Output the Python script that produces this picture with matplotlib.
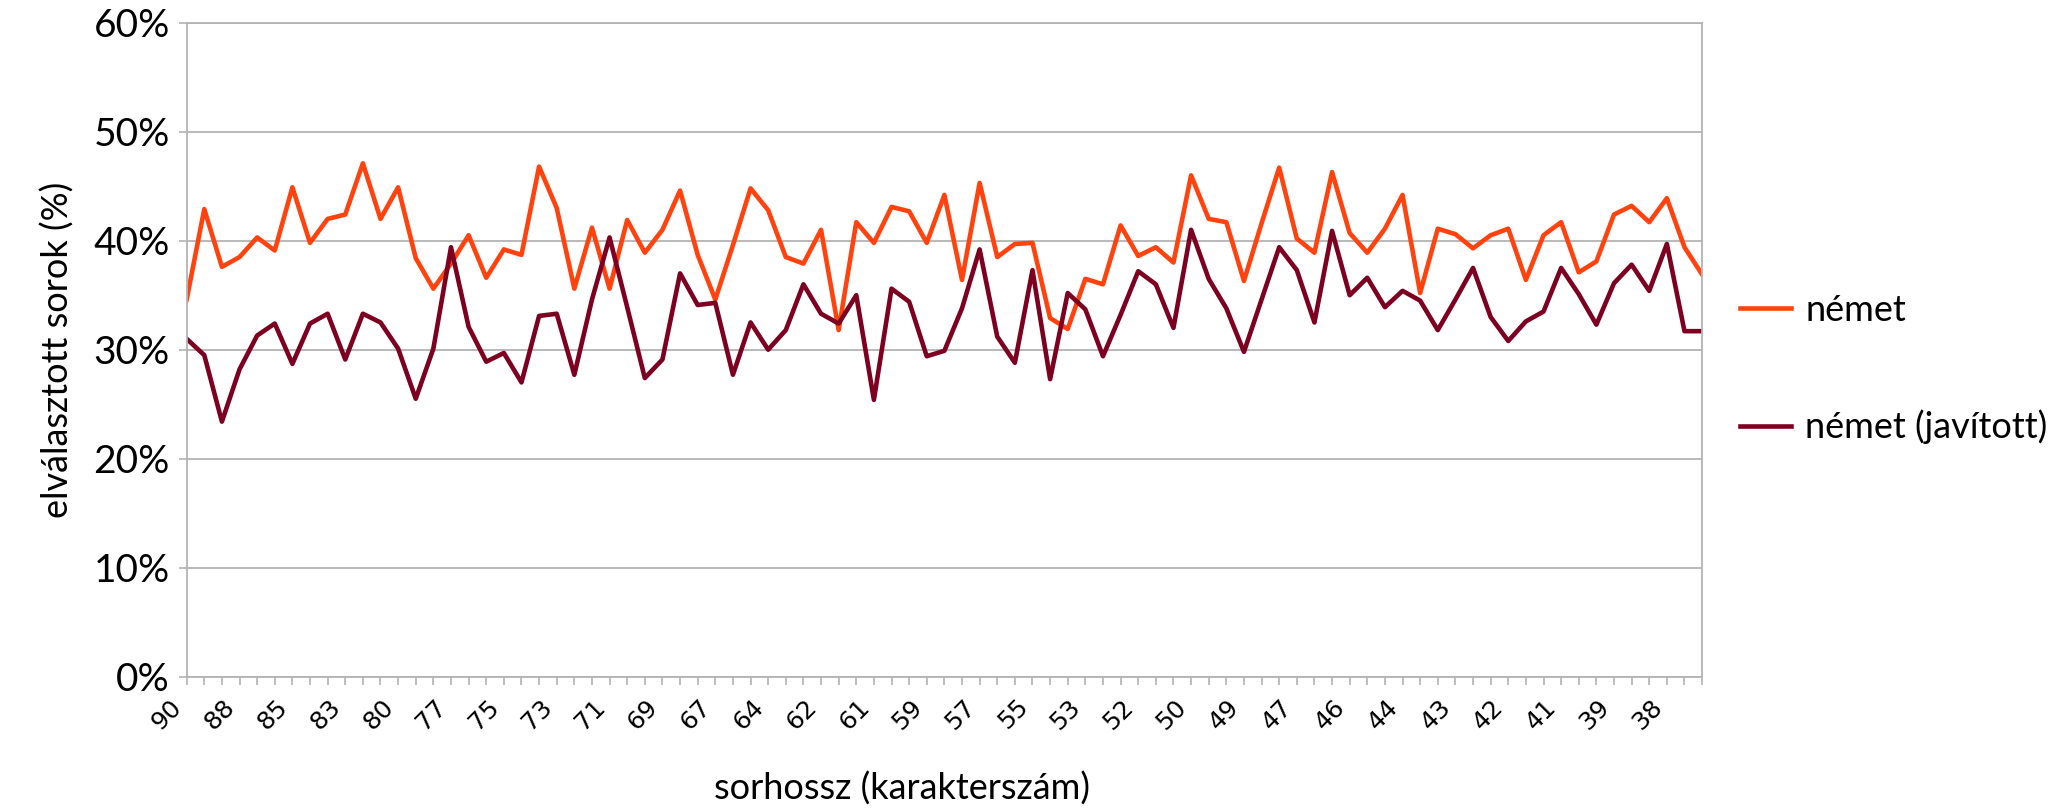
import numpy as np
import matplotlib
matplotlib.use("Agg")
import matplotlib.pyplot as plt

# x tick labels (only every third category is labelled in the original)
tick_labels = [90, 88, 85, 83, 80, 77, 75, 73, 71, 69, 67, 64, 62, 61, 59,
               57, 55, 53, 52, 50, 49, 47, 46, 44, 43, 42, 41, 39, 38]
label_step = 3

nemet = [34.6, 42.9, 37.6, 38.5, 40.3, 39.1, 44.9, 39.8, 42.0, 42.4,
         47.1, 42.0, 44.9, 38.4, 35.6, 37.9, 40.5, 36.6, 39.2, 38.7,
         46.8, 43.0, 35.6, 41.2, 35.6, 41.9, 38.9, 41.0, 44.6, 38.7,
         34.6, 39.6, 44.8, 42.8, 38.5, 37.9, 41.0, 31.8, 41.7, 39.8,
         43.1, 42.7, 39.8, 44.2, 36.4, 45.3, 38.5, 39.7, 39.8, 32.9,
         31.9, 36.5, 36.0, 41.4, 38.6, 39.4, 38.0, 46.0, 42.0, 41.7,
         36.3, 41.6, 46.7, 40.2, 38.9, 46.3, 40.7, 38.9, 41.1, 44.2,
         35.2, 41.1, 40.6, 39.3, 40.5, 41.1, 36.4, 40.5, 41.7, 37.1,
         38.1, 42.4, 43.2, 41.7, 43.9, 39.4, 36.9]

nemet_javitott = [31.0, 29.5, 23.4, 28.2, 31.3, 32.4, 28.7, 32.4, 33.3, 29.1,
                  33.3, 32.5, 30.1, 25.5, 30.1, 39.4, 32.1, 28.9, 29.7, 27.0,
                  33.1, 33.3, 27.7, 34.6, 40.3, 33.9, 27.4, 29.1, 37.0, 34.1,
                  34.3, 27.7, 32.5, 30.0, 31.8, 36.0, 33.3, 32.4, 35.0, 25.4,
                  35.6, 34.4, 29.4, 29.9, 33.8, 39.2, 31.2, 28.8, 37.3, 27.3,
                  35.2, 33.7, 29.4, 33.2, 37.2, 36.0, 32.0, 41.0, 36.5, 33.8,
                  29.8, 34.6, 39.4, 37.3, 32.5, 40.9, 35.0, 36.6, 33.9, 35.4,
                  34.5, 31.8, 34.6, 37.5, 33.0, 30.8, 32.6, 33.5, 37.5, 35.1,
                  32.3, 36.1, 37.8, 35.4, 39.7, 31.7, 31.7]

font = "Lato"
grid_col = "#b3b3b3"

fig = plt.figure(figsize=(20.49, 8.08), dpi=100)
ax = fig.add_axes([0.0911, 0.1625, 0.8307 - 0.0911, 0.9719 - 0.1625])

x = np.arange(len(nemet))
ax.plot(x, nemet, color="#ff420e", lw=3.3, label="német")
ax.plot(x, nemet_javitott, color="#7e0021", lw=3.3, label="német (javított)")

ax.set_xlim(0, len(nemet) - 1)
ax.set_ylim(0, 60)

ax.set_yticks(np.arange(0, 61, 10))
ax.set_yticklabels([f"{v}%" for v in range(0, 61, 10)], fontsize=28, family=font)
ax.yaxis.grid(True, color=grid_col, lw=1.3)
ax.set_axisbelow(True)

# labelled ticks as major, every category as minor
ax.set_xticks(x[::label_step][:len(tick_labels)])
ax.set_xticklabels([str(v) for v in tick_labels], rotation=45,
                   ha="right", va="top", fontsize=18)
ax.set_xticks(x, minor=True)
ax.tick_params(axis="x", which="both", length=6, width=1.2, color=grid_col)
ax.tick_params(axis="x", which="major", pad=7)
ax.tick_params(axis="y", length=6, width=1.2, color=grid_col, pad=6)

for s in ax.spines.values():
    s.set_color(grid_col)
    s.set_linewidth(1.3)

ax.set_ylabel("elválasztott sorok (%)", fontsize=26, family=font, labelpad=14)
fig.text(902 / 2049, 1 - 789 / 808, "sorhossz (karakterszám)", fontsize=26,
         family=font, ha="center", va="center")

fig.legend(loc="center left", bbox_to_anchor=(1740 / 2049, 1 - 369 / 808),
           frameon=False, prop={"family": font, "size": 26}, handlelength=1.4,
           handletextpad=0.4, labelspacing=2.3, borderpad=0, borderaxespad=0)

fig.savefig("out.png", dpi=100)
